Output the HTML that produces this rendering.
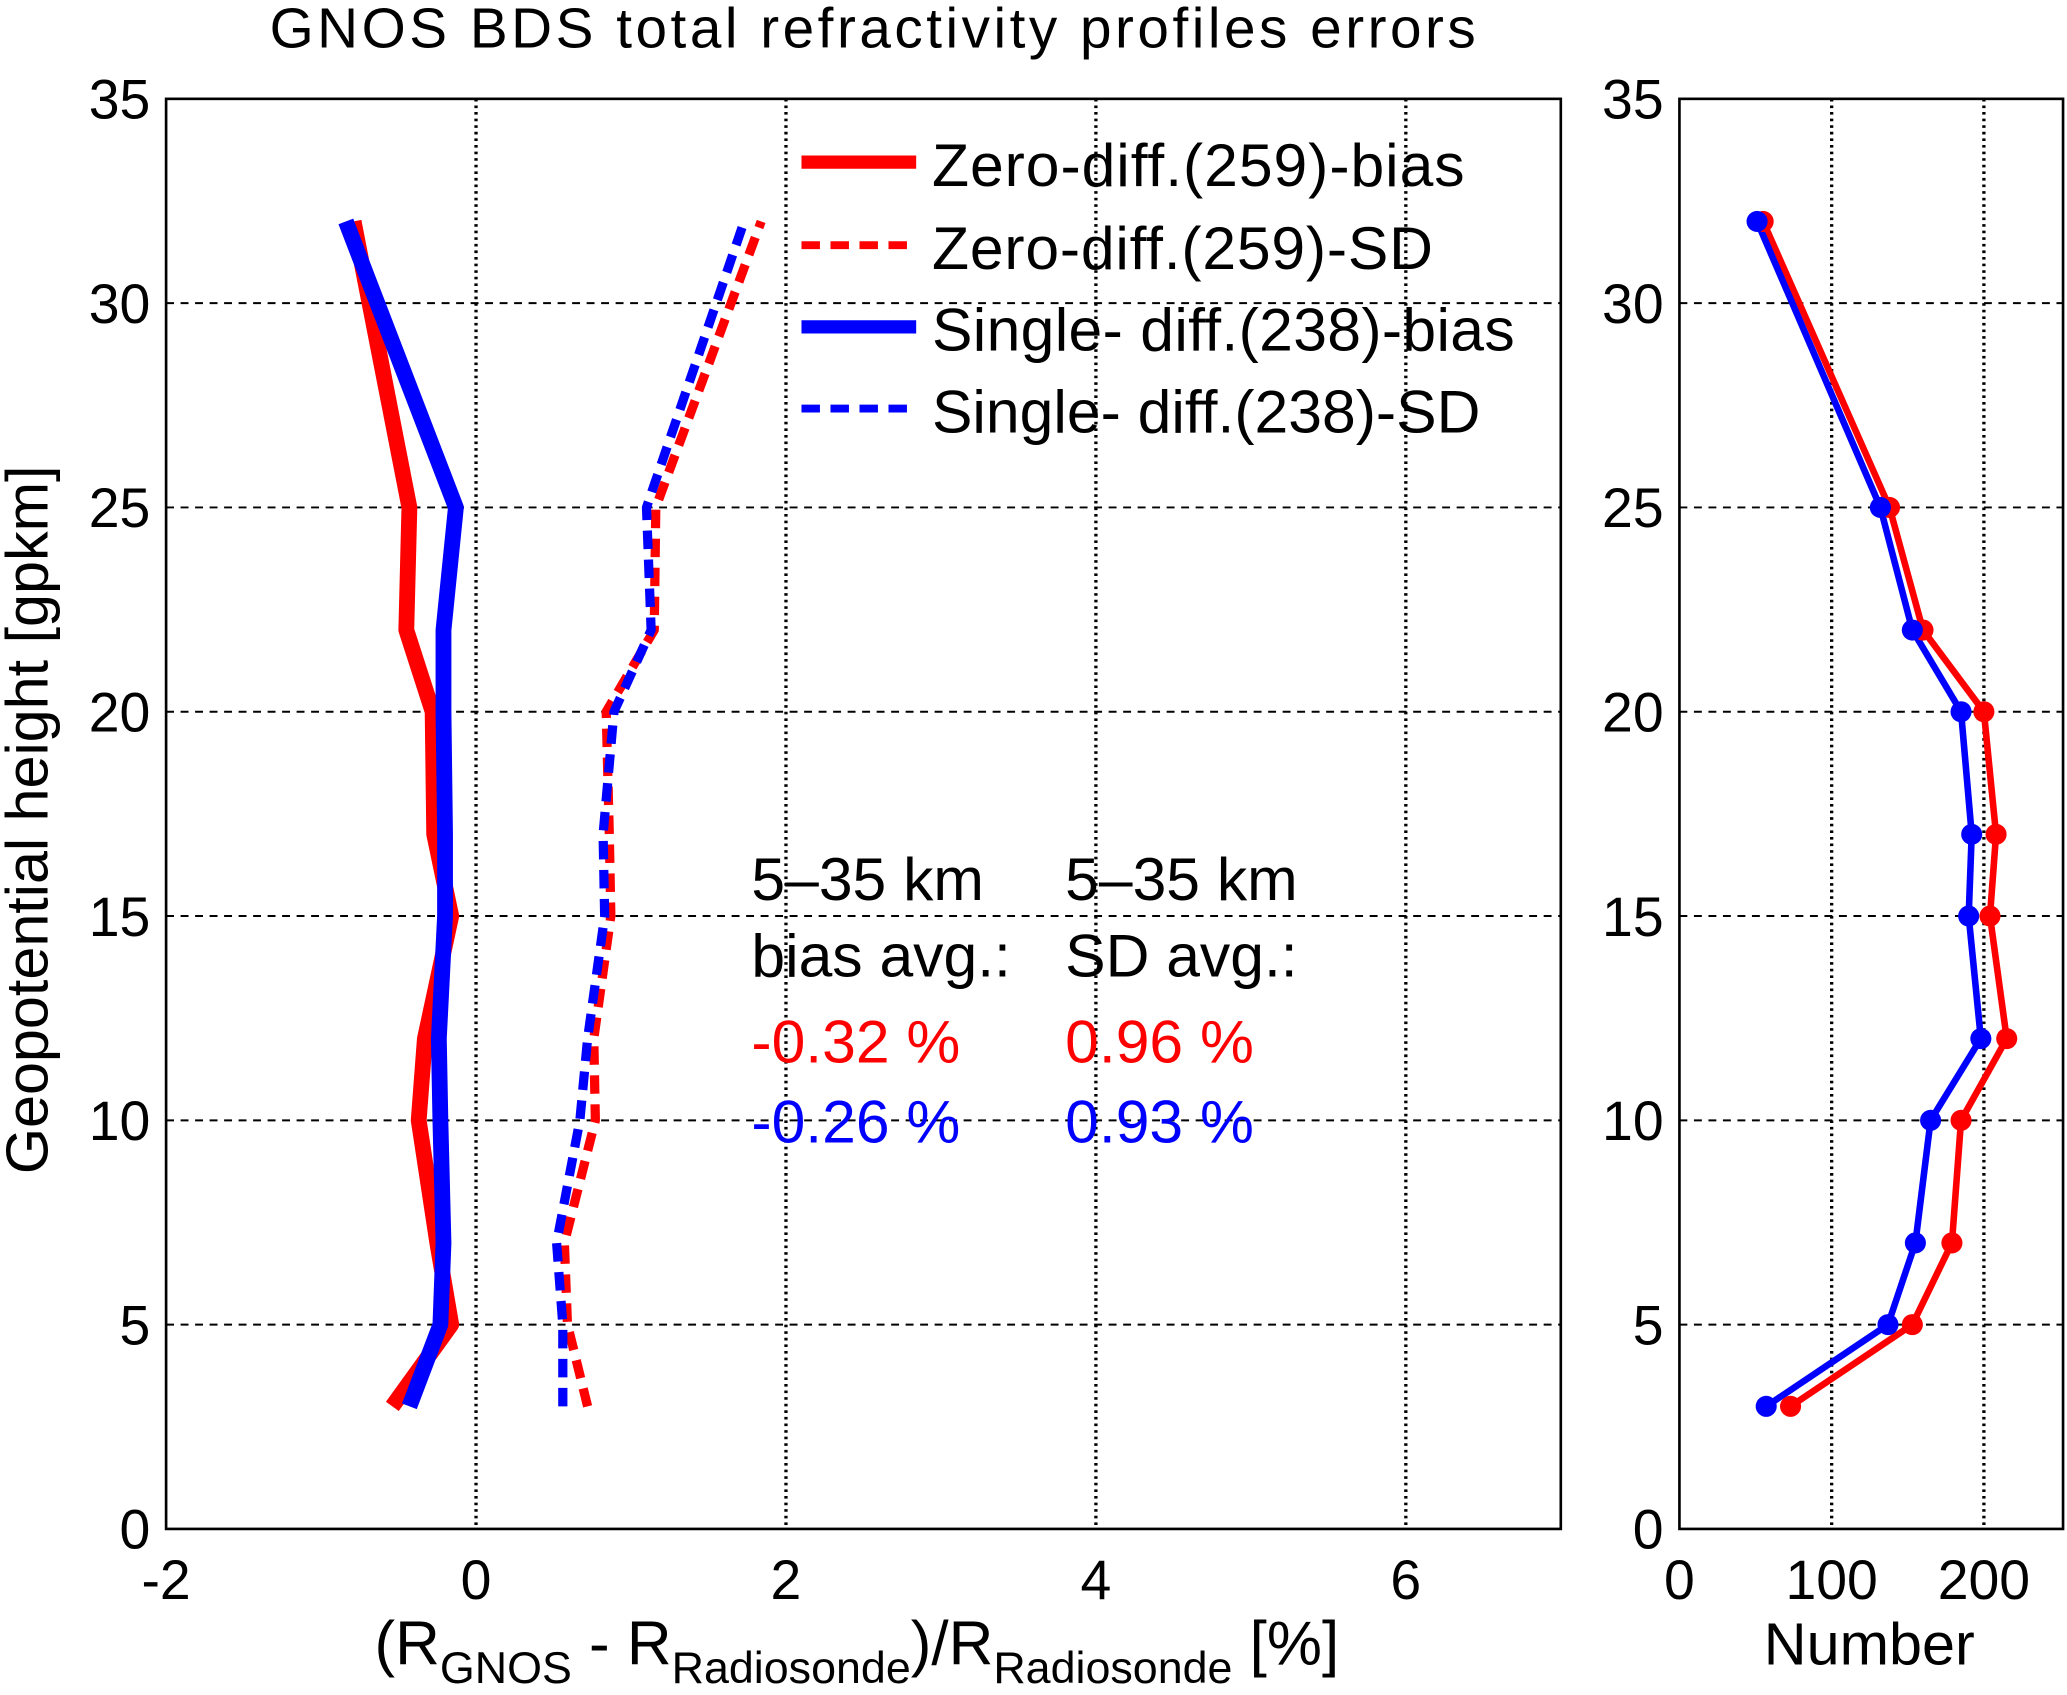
<!DOCTYPE html>
<html><head><meta charset="utf-8"><style>
html,body{margin:0;padding:0;background:#fff;}
svg{display:block;font-family:"Liberation Sans",Arial,sans-serif;}
</style></head><body>
<svg id="chart" width="2067" height="1695" viewBox="0 0 1568 1286" preserveAspectRatio="none" xmlns="http://www.w3.org/2000/svg">
<rect x="0" y="0" width="1568" height="1286" fill="#fff"/>
<g id="g"></g>
</svg>
<script>
const heights=[3,5,7,10,12,15,17,20,22,25,32];
const zeroBias=[-0.54,-0.16,-0.25,-0.37,-0.33,-0.16,-0.27,-0.28,-0.45,-0.43,-0.79];
const singleBias=[-0.43,-0.23,-0.21,-0.23,-0.24,-0.2,-0.2,-0.21,-0.21,-0.13,-0.84];
const zeroSD=[0.72,0.59,0.57,0.77,0.76,0.87,0.86,0.84,1.15,1.16,1.84];
const singleSD=[0.56,0.56,0.52,0.67,0.72,0.83,0.82,0.89,1.13,1.1,1.73];
const zeroNum=[73,153,179,185,215,204,208,200,160,138,55];
const singleNum=[57,137,155,165,198,190,192,185,153,132,51];
const xTicksL=[-2,0,2,4,6];
const yTicks=[0,5,10,15,20,25,30,35];
const xTicksR=[0,100,200];

const NS="http://www.w3.org/2000/svg";
const g=document.getElementById('g');
function el(t,a,txt){const e=document.createElementNS(NS,t);for(const k in a)e.setAttribute(k,a[k]);if(txt!==undefined)e.textContent=txt;g.appendChild(e);return e;}
const L={x0:126,x1:1184,y0:75,y1:1160,xmin:-2,xmax:7};
const R={x0:1274,x1:1565,y0:75,y1:1160,xmin:0,xmax:252};
const ymap=v=>L.y1-(v/35)*(L.y1-L.y0);
const xL=v=>L.x0+(v-L.xmin)/(L.xmax-L.xmin)*(L.x1-L.x0);
const xR=v=>R.x0+(v-R.xmin)/(R.xmax-R.xmin)*(R.x1-R.x0);

function axes(A,xm,xt,pre){
  let e;
  for(const t of yTicks){ if(t===0||t===35) continue;
    e=el('line',{x1:A.x0,x2:A.x1,y1:ymap(t),y2:ymap(t),stroke:'#000','stroke-width':1.5,'stroke-dasharray':'6,5'});
    
    
  }
  for(const t of xt){ const x=xm(t); if(x<=A.x0+1) continue;
    e=el('line',{x1:x,x2:x,y1:A.y0,y2:A.y1,stroke:'#000','stroke-width':2.5,'stroke-dasharray':'2,3'});
    
    
  }
  e=el('rect',{x:A.x0,y:A.y0,width:A.x1-A.x0,height:A.y1-A.y0,fill:'none',stroke:'#000','stroke-width':2});
  
  
  for(const t of yTicks){
    e=el('text',{x:A.x0-12,y:ymap(t)+15,'text-anchor':'end','font-size':42},String(t));
    
    
  }
  for(const t of xt){
    e=el('text',{x:xm(t),y:1213,'text-anchor':'middle','font-size':42},String(t));
    
    
  }
}
axes(L,xL,xTicksL,'left-');
axes(R,xR,xTicksR,'right-');

function series(xs,xm,color,w,dash,name){
  const pts=xs.map((v,i)=>xm(v)+','+ymap(heights[i])).join(' ');
  const a={points:pts,fill:'none',stroke:color,'stroke-width':w,'stroke-linejoin':'round'};
  if(dash)a['stroke-dasharray']=dash;
  const e=el('polyline',a);
  
  
}
series(zeroBias,xL,'#ff0000',12,null,'zero-diff-bias-line');
series(singleBias,xL,'#0000ff',12,null,'single-diff-bias-line');
series(zeroSD,xL,'#ff0000',7,'14,8','zero-diff-sd-line');
series(singleSD,xL,'#0000ff',7,'14,8','single-diff-sd-line');
series(zeroNum,xR,'#ff0000',5,null,'zero-diff-number-line');
series(singleNum,xR,'#0000ff',5,null,'single-diff-number-line');
function markers(xs,color,name){
  xs.forEach((v,i)=>{
    const e=el('circle',{cx:xR(v),cy:ymap(heights[i]),r:8,fill:color});
    
    
  });
}
markers(zeroNum,'#ff0000','zero-diff-number-marker');
markers(singleNum,'#0000ff','single-diff-number-marker');

// legend
const leg=[['Zero-diff.(259)-bias','#ff0000',10,null,126,404],['Zero-diff.(259)-SD','#ff0000',6,'14,8',189,380],['Single- diff.(238)-bias','#0000ff',10,null,251,442],['Single- diff.(238)-SD','#0000ff',6,'14,8',313,416]];
for(const [t,c,w,d,y,tl] of leg){
  const a={x1:608,x2:695,y1:y-3,y2:y-3,stroke:c,'stroke-width':w};
  if(d)a['stroke-dasharray']=d;
  let e=el('line',a);
  
  
  e=el('text',{x:707,y:y+15,'font-size':46,textLength:tl},t);
  
  
}
// annotations
const ann=[[570,683,'5–35 km','#000'],[808,683,'5–35 km','#000'],[570,741,'bias avg.:','#000'],[808,741,'SD avg.:','#000'],[570,806,'-0.32 %','#ff0000'],[808,806,'0.96 %','#ff0000'],[570,867,'-0.26 %','#0000ff'],[808,867,'0.93 %','#0000ff']];
for(const [x,y,t,c] of ann){
  const e=el('text',{x:x,y:y,'font-size':46,fill:c},t);
  
  
}
let e=el('text',{x:662,y:36,'text-anchor':'middle','font-size':43,textLength:915},'GNOS BDS total refractivity profiles errors');


e=el('text',{x:0,y:0,'text-anchor':'middle','font-size':45,transform:'translate(36,622) rotate(-90)'},'Geopotential height [gpkm]');


e=el('text',{x:1418,y:1263,'text-anchor':'middle','font-size':45},'Number');


const xt=document.createElementNS(NS,'text');
xt.setAttribute('x',650);xt.setAttribute('y',1263);xt.setAttribute('text-anchor','middle');xt.setAttribute('font-size',47);
xt.innerHTML='(R<tspan font-size="34" dy="14">GNOS</tspan><tspan dy="-14"> - R</tspan><tspan font-size="34" dy="14">Radiosonde</tspan><tspan dy="-14">)/R</tspan><tspan font-size="34" dy="14">Radiosonde</tspan><tspan dy="-14"> [%]</tspan>';


g.appendChild(xt);
</script>
</body></html>
